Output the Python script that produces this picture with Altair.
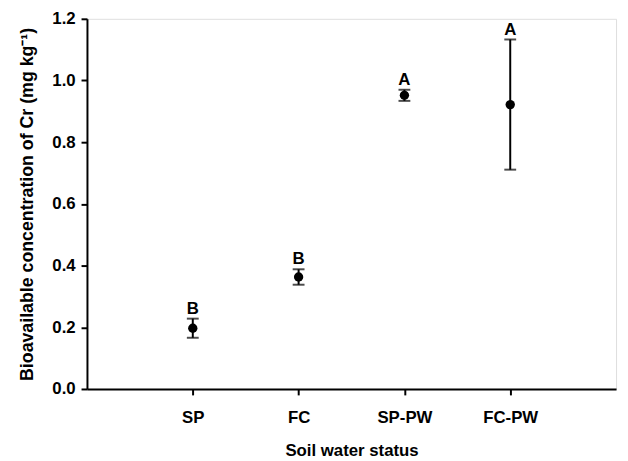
import altair as alt
import pandas as pd

categories = ["SP", "FC", "SP-PW", "FC-PW"]
positions = [1, 2, 3, 4]
means = [0.197, 0.363, 0.952, 0.922]
errors = [0.031, 0.025, 0.018, 0.211]
letters = ["B", "B", "A", "A"]

df = pd.DataFrame({
    "cat": categories,
    "pos": positions,
    "mean": means,
    "err": errors,
    "letter": letters,
})
df["lo"] = df["mean"] - df["err"]
df["hi"] = df["mean"] + df["err"]

FONT = "Liberation Sans"
FS = 17

label_expr = ("datum.value == 1 ? 'SP' : datum.value == 2 ? 'FC' : "
              "datum.value == 3 ? 'SP-PW' : datum.value == 4 ? 'FC-PW' : ''")

yscale = alt.Scale(domain=[0, 1.2], nice=False)

x = alt.X("pos:Q", scale=alt.Scale(domain=[0, 5], nice=False, zero=False),
          axis=alt.Axis(title="Soil water status", values=positions, labelExpr=label_expr,
                        grid=False, domainColor="black", domainWidth=2, tickColor="black",
                        tickWidth=2, tickSize=6, labelFont=FONT, labelFontSize=FS,
                        labelFontWeight="bold", labelColor="black", labelPadding=15,
                        titleFont=FONT, titleFontSize=FS, titleFontWeight="bold",
                        titleColor="black", titlePadding=17))
y = alt.Y("mean:Q", scale=yscale,
          axis=alt.Axis(title="Bioavailable concentration of Cr (mg kg⁻¹)",
                        values=[0, 0.2, 0.4, 0.6, 0.8, 1.0, 1.2], format=".1f",
                        grid=False, domainColor="black", domainWidth=2, tickColor="black",
                        tickWidth=2, tickSize=6, labelFont=FONT, labelFontSize=FS,
                        labelFontWeight="bold", labelColor="black", labelPadding=6,
                        titleFont=FONT, titleFontSize=18, titleFontWeight="bold",
                        titleColor="black", titlePadding=16))

base = alt.Chart(df)

rule = base.mark_rule(color="black", strokeWidth=2).encode(
    x=x, y=alt.Y("lo:Q", scale=yscale), y2="hi:Q")
cap_hi = base.mark_tick(color="black", thickness=2, size=12, orient="horizontal").encode(
    x=x, y=alt.Y("hi:Q", scale=yscale))
cap_lo = base.mark_tick(color="black", thickness=2, size=12, orient="horizontal").encode(
    x=x, y=alt.Y("lo:Q", scale=yscale))
points = base.mark_point(filled=True, color="black", size=90, opacity=1).encode(x=x, y=y)
text = base.mark_text(font=FONT, fontSize=FS, fontWeight="bold", color="black",
                      baseline="bottom", dy=-1).encode(
    x=x, y=alt.Y("hi:Q", scale=yscale), text="letter:N")

chart = alt.layer(points, rule, cap_hi, cap_lo, text).properties(
    width=536, height=375,
    autosize=alt.AutoSizeParams(type="none"),
    padding={"left": 80, "top": 8, "right": 4, "bottom": 69},
).configure_view(stroke="black", strokeWidth=2).configure(background="white")

chart.save("out.html", embed_options={"renderer": "svg", "actions": False})
